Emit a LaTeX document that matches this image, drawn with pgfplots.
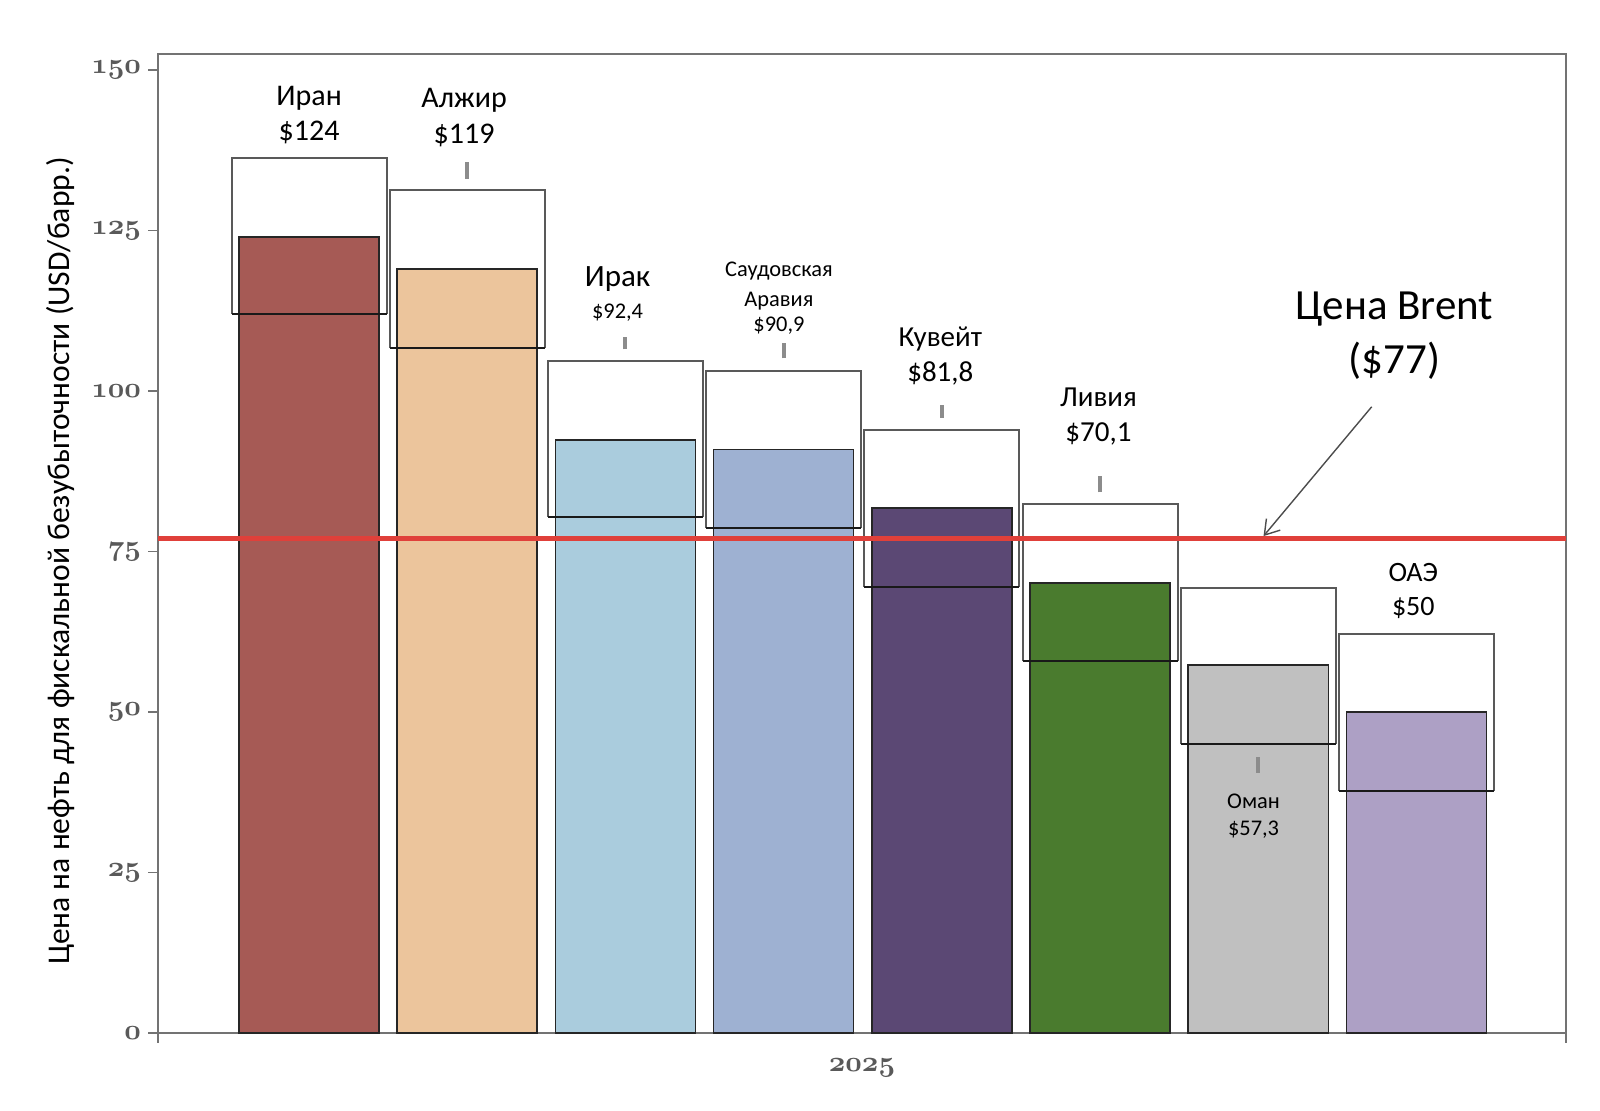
\documentclass[border=0pt]{standalone}
\usepackage{fontspec}
\setmainfont{Carlito}
\usepackage{pgfplots}
\pgfplotsset{compat=1.18}
\usetikzlibrary{arrows.meta}

\definecolor{cIran}{HTML}{A65A55}
\definecolor{cAlg}{HTML}{ECC59C}
\definecolor{cIraq}{HTML}{AACCDD}
\definecolor{cSaudi}{HTML}{9EB1D2}
\definecolor{cKuw}{HTML}{5B4874}
\definecolor{cLib}{HTML}{4A7B2E}
\definecolor{cOman}{HTML}{C0C0C0}
\definecolor{cUAE}{HTML}{ADA0C5}
\definecolor{cRed}{HTML}{E0403A}

\begin{document}
\begin{tikzpicture}
\begin{axis}[
  at={(0,0)}, anchor=south west,
  scale only axis, width=704pt, height=489.5pt,
  xmin=-0.955, xmax=7.945, ymin=0, ymax=152.5,
  clip=false,
  axis line style={draw=black!55, line width=1pt},
  ytick={0,25,50,75,100,125,150},
  yticklabels={$\mathnormal{0}$,$\mathnormal{25}$,$\mathnormal{50}$,$\mathnormal{75}$,$\mathnormal{100}$,$\mathnormal{125}$,$\mathnormal{150}$},
  yticklabel style={font=\fontsize{14.4}{16}\selectfont\boldmath, text=black!65},
  ytick pos=left,
  xtick=\empty,
  extra x ticks={-0.955,7.945},
  extra x tick labels={},
  extra x tick style={xtick pos=bottom},
  tick align=outside,
  major tick length=5pt,
  tick style={draw=black!55, line width=0.8pt},
  xlabel={$\mathnormal{2025}$},
  xlabel style={font=\fontsize{14.4}{16}\selectfont\boldmath, text=black!65, at={(axis description cs:0.5,0)}, anchor=center, yshift=-17.5pt},
  ylabel={Цена на нефть для фискальной безубыточности (USD/барр.)},
  ylabel style={font=\fontsize{15.8}{18}\selectfont, at={(axis description cs:-0.0689,0.482)}, anchor=center},
]
% bars
\addplot[ybar, bar width=0.885, bar shift=0pt, fill=cIran, draw=black!85, line width=0.8pt] coordinates {(0,124)};
\addplot[ybar, bar width=0.885, bar shift=0pt, fill=cAlg, draw=black!85, line width=0.8pt] coordinates {(1,119)};
\addplot[ybar, bar width=0.885, bar shift=0pt, fill=cIraq, draw=black!85, line width=0.8pt] coordinates {(2,92.4)};
\addplot[ybar, bar width=0.885, bar shift=0pt, fill=cSaudi, draw=black!85, line width=0.8pt] coordinates {(3,90.9)};
\addplot[ybar, bar width=0.885, bar shift=0pt, fill=cKuw, draw=black!85, line width=0.8pt] coordinates {(4,81.8)};
\addplot[ybar, bar width=0.885, bar shift=0pt, fill=cLib, draw=black!85, line width=0.8pt] coordinates {(5,70.1)};
\addplot[ybar, bar width=0.885, bar shift=0pt, fill=cOman, draw=black!85, line width=0.8pt] coordinates {(6,57.3)};
\addplot[ybar, bar width=0.885, bar shift=0pt, fill=cUAE, draw=black!85, line width=0.8pt] coordinates {(7,50)};
% range boxes
\addplot[draw=black!65, line width=1pt, mark=none] coordinates {(-0.49,112.0) (-0.49,136.3) (0.49,136.3) (0.49,112.0)};
\addplot[draw=black!65, line width=1pt, mark=none] coordinates {(0.51,106.7) (0.51,131.3) (1.49,131.3) (1.49,106.7)};
\addplot[draw=black!65, line width=1pt, mark=none] coordinates {(1.51,80.4) (1.51,104.7) (2.49,104.7) (2.49,80.4)};
\addplot[draw=black!65, line width=1pt, mark=none] coordinates {(2.51,78.7) (2.51,103.1) (3.49,103.1) (3.49,78.7)};
\addplot[draw=black!65, line width=1pt, mark=none] coordinates {(3.51,69.5) (3.51,94.0) (4.49,94.0) (4.49,69.5)};
\addplot[draw=black!65, line width=1pt, mark=none] coordinates {(4.51,57.9) (4.51,82.4) (5.49,82.4) (5.49,57.9)};
\addplot[draw=black!65, line width=1pt, mark=none] coordinates {(5.51,45.0) (5.51,69.3) (6.49,69.3) (6.49,45.0)};
\addplot[draw=black!65, line width=1pt, mark=none] coordinates {(6.51,37.7) (6.51,62.2) (7.49,62.2) (7.49,37.7)};
% box bottoms (darker)
\addplot[draw=black!90, line width=1.1pt, mark=none] coordinates {(-0.49,112.0) (0.49,112.0)};
\addplot[draw=black!90, line width=1.1pt, mark=none] coordinates {(0.51,106.7) (1.49,106.7)};
\addplot[draw=black!90, line width=1.1pt, mark=none] coordinates {(1.51,80.4) (2.49,80.4)};
\addplot[draw=black!90, line width=1.1pt, mark=none] coordinates {(2.51,78.7) (3.49,78.7)};
\addplot[draw=black!90, line width=1.1pt, mark=none] coordinates {(3.51,69.5) (4.49,69.5)};
\addplot[draw=black!90, line width=1.1pt, mark=none] coordinates {(4.51,57.9) (5.49,57.9)};
\addplot[draw=black!90, line width=1.1pt, mark=none] coordinates {(5.51,45.0) (6.49,45.0)};
\addplot[draw=black!90, line width=1.1pt, mark=none] coordinates {(6.51,37.7) (7.49,37.7)};
% small marks
\addplot[draw=black!45, line width=2pt, mark=none] coordinates {(1,133.1) (1,135.7)};
\addplot[draw=black!45, line width=2pt, mark=none] coordinates {(2,106.5) (2,108.4)};
\addplot[draw=black!45, line width=2pt, mark=none] coordinates {(3,105.1) (3,107.5)};
\addplot[draw=black!45, line width=2pt, mark=none] coordinates {(4,95.8) (4,97.8)};
\addplot[draw=black!45, line width=2pt, mark=none] coordinates {(5,84.2) (5,86.8)};
\addplot[draw=black!45, line width=2pt, mark=none] coordinates {(6,40.5) (6,43.0)};
% Brent line
\addplot[draw=cRed, line width=2.5pt, mark=none] coordinates {(-0.955,77) (7.945,77)};
% arrow
\addplot[draw=black!70, line width=0.7pt, mark=none, -{Straight Barb[length=7pt,width=9pt]}] coordinates {(6.717,97.55) (6.033,77.4)};
% labels
\node[font=\fontsize{15}{18}\selectfont, anchor=base] at (axis cs:0,144.5) {Иран};
\node[font=\fontsize{15}{18}\selectfont, anchor=base] at (axis cs:0,139.1) {\$124};
\node[font=\fontsize{15}{18}\selectfont, anchor=base] at (axis cs:0.98,144.1) {Алжир};
\node[font=\fontsize{15}{18}\selectfont, anchor=base] at (axis cs:0.98,138.5) {\$119};
\node[font=\fontsize{15.5}{18}\selectfont, anchor=base] at (axis cs:1.95,116.3) {Ирак};
\node[font=\fontsize{11.2}{14}\selectfont, anchor=base] at (axis cs:1.95,111.3) {\$92,4};
\node[font=\fontsize{11.2}{14}\selectfont, anchor=base] at (axis cs:2.97,117.8) {Саудовская};
\node[font=\fontsize{11.2}{14}\selectfont, anchor=base] at (axis cs:2.97,113.2) {Аравия};
\node[font=\fontsize{11.2}{14}\selectfont, anchor=base] at (axis cs:2.97,109.2) {\$90,9};
\node[font=\fontsize{14.5}{18}\selectfont, anchor=base] at (axis cs:3.99,106.9) {Кувейт};
\node[font=\fontsize{14.5}{18}\selectfont, anchor=base] at (axis cs:3.99,101.45) {\$81,8};
\node[font=\fontsize{14.5}{18}\selectfont, anchor=base] at (axis cs:4.99,97.55) {Ливия};
\node[font=\fontsize{14.5}{18}\selectfont, anchor=base] at (axis cs:4.99,92.1) {\$70,1};
\node[font=\fontsize{11.2}{14}\selectfont, anchor=base] at (axis cs:5.97,35.0) {Оман};
\node[font=\fontsize{11.2}{14}\selectfont, anchor=base] at (axis cs:5.97,30.8) {\$57,3};
\node[font=\fontsize{14}{18}\selectfont, anchor=base] at (axis cs:6.98,70.3) {ОАЭ};
\node[font=\fontsize{14}{18}\selectfont, anchor=base] at (axis cs:6.98,65.1) {\$50};
\node[font=\fontsize{21.5}{26}\selectfont, anchor=base] at (axis cs:6.86,111.1) {Цена Brent};
\node[font=\fontsize{21.5}{26}\selectfont, anchor=base] at (axis cs:6.86,102.8) {(\$77)};
\end{axis}
\pgfresetboundingbox
\path (-79pt,-39pt) rectangle (721pt,516.5pt);
\end{tikzpicture}
\end{document}
